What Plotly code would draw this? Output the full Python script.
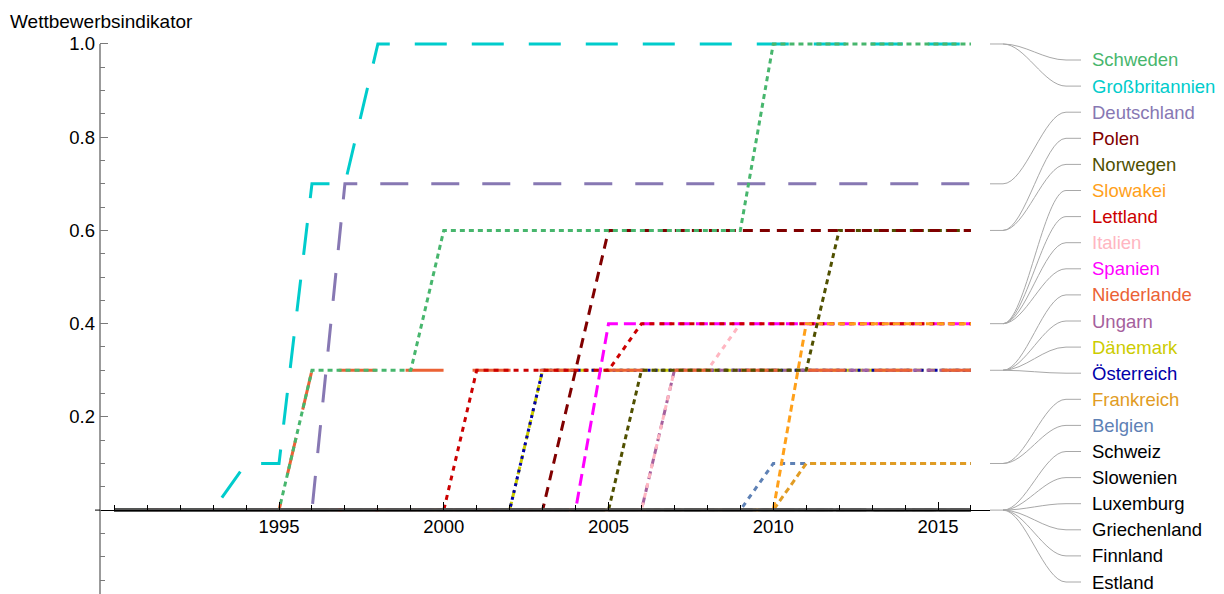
import plotly.graph_objects as go

# ---------------- data ----------------
years = list(range(1990, 2017))
major_years = [1995, 2000, 2005, 2010, 2015]
y_ticks = [0.2, 0.4, 0.6, 0.8, 1.0]
y_ticktext = ["0.2", "0.4", "0.6", "0.8", "1.0"]
y_minor = [-0.15, -0.1, -0.05, 0.05, 0.1, 0.15, 0.25, 0.3, 0.35, 0.45,
           0.5, 0.55, 0.65, 0.7, 0.75, 0.85, 0.9, 0.95]

#            1990 ...................................................................................................... 2016
schweden        = [0, 0, 0, 0, 0, 0, 0.3, 0.3, 0.3, 0.3, 0.6, 0.6, 0.6, 0.6, 0.6, 0.6, 0.6, 0.6, 0.6, 0.6, 1.0, 1.0, 1.0, 1.0, 1.0, 1.0, 1.0]
grossbritannien = [0, 0, 0, 0, 0.1, 0.1, 0.7, 0.7, 1.0, 1.0, 1.0, 1.0, 1.0, 1.0, 1.0, 1.0, 1.0, 1.0, 1.0, 1.0, 1.0, 1.0, 1.0, 1.0, 1.0, 1.0, 1.0]
deutschland     = [0, 0, 0, 0, 0, 0, 0, 0.7, 0.7, 0.7, 0.7, 0.7, 0.7, 0.7, 0.7, 0.7, 0.7, 0.7, 0.7, 0.7, 0.7, 0.7, 0.7, 0.7, 0.7, 0.7, 0.7]
polen           = [0, 0, 0, 0, 0, 0, 0, 0, 0, 0, 0, 0, 0, 0, 0.3, 0.6, 0.6, 0.6, 0.6, 0.6, 0.6, 0.6, 0.6, 0.6, 0.6, 0.6, 0.6]
norwegen        = [0, 0, 0, 0, 0, 0, 0, 0, 0, 0, 0, 0, 0, 0, 0, 0, 0.3, 0.3, 0.3, 0.3, 0.3, 0.3, 0.6, 0.6, 0.6, 0.6, 0.6]
slowakei        = [0, 0, 0, 0, 0, 0, 0, 0, 0, 0, 0, 0, 0, 0, 0, 0, 0, 0, 0, 0, 0, 0.4, 0.4, 0.4, 0.4, 0.4, 0.4]
lettland        = [0, 0, 0, 0, 0, 0, 0, 0, 0, 0, 0, 0.3, 0.3, 0.3, 0.3, 0.3, 0.4, 0.4, 0.4, 0.4, 0.4, 0.4, 0.4, 0.4, 0.4, 0.4, 0.4]
italien         = [0, 0, 0, 0, 0, 0, 0, 0, 0, 0, 0, 0, 0, 0, 0, 0, 0, 0.3, 0.3, 0.4, 0.4, 0.4, 0.4, 0.4, 0.4, 0.4, 0.4]
spanien         = [0, 0, 0, 0, 0, 0, 0, 0, 0, 0, 0, 0, 0, 0, 0, 0.4, 0.4, 0.4, 0.4, 0.4, 0.4, 0.4, 0.4, 0.4, 0.4, 0.4, 0.4]
niederlande     = [0, 0, 0, 0, 0, 0, 0.3, 0.3, 0.3, 0.3, 0.3, 0.3, 0.3, 0.3, 0.3, 0.3, 0.3, 0.3, 0.3, 0.3, 0.3, 0.3, 0.3, 0.3, 0.3, 0.3, 0.3]
ungarn          = [0, 0, 0, 0, 0, 0, 0, 0, 0, 0, 0, 0, 0, 0, 0, 0, 0, 0.3, 0.3, 0.3, 0.3, 0.3, 0.3, 0.3, 0.3, 0.3, 0.3]
daenemark       = [0, 0, 0, 0, 0, 0, 0, 0, 0, 0, 0, 0, 0, 0.3, 0.3, 0.3, 0.3, 0.3, 0.3, 0.3, 0.3, 0.3, 0.3, 0.3, 0.3, 0.3, 0.3]
oesterreich     = [0, 0, 0, 0, 0, 0, 0, 0, 0, 0, 0, 0, 0, 0.3, 0.3, 0.3, 0.3, 0.3, 0.3, 0.3, 0.3, 0.3, 0.3, 0.3, 0.3, 0.3, 0.3]
frankreich      = [0, 0, 0, 0, 0, 0, 0, 0, 0, 0, 0, 0, 0, 0, 0, 0, 0, 0, 0, 0, 0, 0.1, 0.1, 0.1, 0.1, 0.1, 0.1]
belgien         = [0, 0, 0, 0, 0, 0, 0, 0, 0, 0, 0, 0, 0, 0, 0, 0, 0, 0, 0, 0, 0.1, 0.1, 0.1, 0.1, 0.1, 0.1, 0.1]
schweiz         = [0, 0, 0, 0, 0, 0, 0, 0, 0, 0, 0, 0, 0, 0, 0, 0, 0, 0, 0, 0, 0, 0, 0, 0, 0, 0, 0]
slowenien       = [0, 0, 0, 0, 0, 0, 0, 0, 0, 0, 0, 0, 0, 0, 0, 0, 0, 0, 0, 0, 0, 0, 0, 0, 0, 0, 0]
luxemburg       = [0, 0, 0, 0, 0, 0, 0, 0, 0, 0, 0, 0, 0, 0, 0, 0, 0, 0, 0, 0, 0, 0, 0, 0, 0, 0, 0]
griechenland    = [0, 0, 0, 0, 0, 0, 0, 0, 0, 0, 0, 0, 0, 0, 0, 0, 0, 0, 0, 0, 0, 0, 0, 0, 0, 0, 0]
finnland        = [0, 0, 0, 0, 0, 0, 0, 0, 0, 0, 0, 0, 0, 0, 0, 0, 0, 0, 0, 0, 0, 0, 0, 0, 0, 0, 0]
estland         = [0, 0, 0, 0, 0, 0, 0, 0, 0, 0, 0, 0, 0, 0, 0, 0, 0, 0, 0, 0, 0, 0, 0, 0, 0, 0, 0]

# name, values, line colour, label colour, dash  (drawing order: bottom -> top)
series = [
    ("Belgien", belgien, "#5E81B5", "#5E81B5", "5px,5px"),
    ("Frankreich", frankreich, "#E19C24", "#E19C24", "6px,4px"),
    ("Dänemark", daenemark, "#CCCC00", "#CCCC00", "8px,4px"),
    ("Österreich", oesterreich, "#0000AA", "#0000AA", "3px,4px"),
    ("Ungarn", ungarn, "#A5609D", "#A5609D", "8px,5px"),
    ("Italien", italien, "#FFB6C1", "#FFB6C1", "5px,5px"),
    ("Niederlande", niederlande, "#EB6235", "#EB6235", "38px,29px"),
    ("Spanien", spanien, "#FF00FF", "#FF00FF", "12px,6px"),
    ("Lettland", lettland, "#CC0000", "#CC0000", "5px,5px"),
    ("Slowakei", slowakei, "#FFA01A", "#FFA01A", "7px,4px"),
    ("Norwegen", norwegen, "#505000", "#505000", "5px,4px"),
    ("Polen", polen, "#800000", "#800000", "10px,7px"),
    ("Deutschland", deutschland, "#8778B3", "#8778B3", "28px,23px"),
    ("Großbritannien", grossbritannien, "#00CCCC", "#00CCCC", "32px,25px"),
    ("Schweden", schweden, "#47B66D", "#47B66D", "5px,4px"),
    ("Estland", estland, "#555555", "#000000", "40px,6px"),
    ("Finnland", finnland, "#555555", "#000000", "30px,8px"),
    ("Griechenland", griechenland, "#555555", "#000000", "50px,5px"),
    ("Luxemburg", luxemburg, "#555555", "#000000", "26px,7px"),
    ("Slowenien", slowenien, "#555555", "#000000", "45px,9px"),
    ("Schweiz", schweiz, "#555555", "#000000", "34px,4px"),
]
for s in series:
    assert len(s[1]) == len(years), s[0]

legend_order = ["Schweden", "Großbritannien", "Deutschland", "Polen", "Norwegen",
                "Slowakei", "Lettland", "Italien", "Spanien", "Niederlande",
                "Ungarn", "Dänemark", "Österreich", "Frankreich", "Belgien",
                "Schweiz", "Slowenien", "Luxemburg", "Griechenland", "Finnland",
                "Estland"]

# ---------------- layout geometry ----------------
W, H = 1224, 594
ML, MR, MT, MB = 100, 234, 37, 0
PW = W - ML - MR
PH = H - MT - MB
XMIN, XMAX = 1989.567, 2016.578
YMIN, YMAX = -0.18, 1.015
FONT = "Liberation Sans, Arial, sans-serif"
FS = 18.5


def fx(px):
    return (px - ML) / PW


def fy(py):
    return (H - MB - py) / PH


def vy(v):
    return MT + (YMAX - v) / (YMAX - YMIN) * PH


fig = go.Figure()
for name, vals, lc, tc, dash in series:
    fig.add_trace(go.Scatter(
        x=years, y=vals, mode="lines", name=name,
        line=dict(color=lc, width=3, dash=dash),
        showlegend=False, hoverinfo="skip",
    ))

shapes = []
# y axis line (from bottom to 1.0)
shapes.append(dict(type="line", xref="paper", yref="paper",
                   x0=0, x1=0, y0=fy(vy(YMIN)), y1=fy(vy(1.0)),
                   line=dict(color="#7a7a7a", width=1.5), layer="above"))
# x axis small extension left of y axis
shapes.append(dict(type="line", xref="paper", yref="paper",
                   x0=fx(95), x1=0, y0=fy(vy(0)), y1=fy(vy(0)),
                   line=dict(color="black", width=1), layer="above"))

# leader lines + labels
end_vals = {name: vals[-1] for name, vals, *_ in series}
label_col = {name: tc for name, vals, lc, tc, dash in series}
annotations = []
x_start, x_knee, x_curve_end, x_end, x_label = 990, 1003, 1066, 1081, 1090
done_groups = set()
for i, name in enumerate(legend_order):
    v = end_vals[name]
    y0 = vy(v)
    yl = 60 + 26.1 * i
    if v not in done_groups:
        done_groups.add(v)
        shapes.append(dict(type="line", xref="paper", yref="paper",
                           x0=fx(x_start), x1=fx(x_knee), y0=fy(y0), y1=fy(y0),
                           line=dict(color="#a8a8a8", width=1)))
    path = (f"M {fx(x_knee)},{fy(y0)} "
            f"C {fx(x_knee + 22)},{fy(y0)} {fx(x_curve_end - 22)},{fy(yl)} {fx(x_curve_end)},{fy(yl)} "
            f"L {fx(x_end)},{fy(yl)}")
    shapes.append(dict(type="path", xref="paper", yref="paper", path=path,
                       line=dict(color="#a8a8a8", width=1)))
    annotations.append(dict(text=name, xref="paper", yref="paper",
                            x=fx(x_label), y=fy(yl), xanchor="left", yanchor="middle",
                            showarrow=False,
                            font=dict(family=FONT, size=FS, color=label_col[name])))

annotations.append(dict(text="Wettbewerbsindikator", xref="paper", yref="paper",
                        x=fx(8), y=fy(21), xanchor="left", yanchor="middle",
                        showarrow=False, font=dict(family=FONT, size=19, color="black")))

fig.update_layout(
    width=W, height=H,
    margin=dict(l=ML, r=MR, t=MT, b=MB, pad=0),
    paper_bgcolor="white", plot_bgcolor="white",
    font=dict(family=FONT, size=FS, color="black"),
    shapes=shapes, annotations=annotations,
    xaxis=dict(
        range=[XMIN, XMAX], anchor="free", position=(0 - YMIN) / (YMAX - YMIN),
        showline=True, linecolor="black", linewidth=1,
        tickmode="array", tickvals=major_years, ticktext=[str(y) for y in major_years],
        ticks="inside", ticklen=8, tickcolor="black", tickwidth=1,
        tickfont=dict(family=FONT, size=FS, color="black"),
        minor=dict(tickmode="array", tickvals=years, ticks="inside", ticklen=5,
                   tickcolor="black", tickwidth=1),
        showgrid=False, zeroline=False,
    ),
    yaxis=dict(
        range=[YMIN, YMAX], showline=False,
        tickmode="array", tickvals=y_ticks, ticktext=y_ticktext,
        ticks="inside", ticklen=8, tickcolor="#7a7a7a", tickwidth=1,
        ticklabelstandoff=4,
        tickfont=dict(family=FONT, size=FS, color="black"),
        minor=dict(tickmode="array", tickvals=y_minor, ticks="inside", ticklen=5,
                   tickcolor="#7a7a7a", tickwidth=1),
        showgrid=False, zeroline=False,
    ),
)

fig.write_html("out.html",
               config={"displayModeBar": False},
               post_script="document.body.style.margin='0';document.body.style.padding='0';")
